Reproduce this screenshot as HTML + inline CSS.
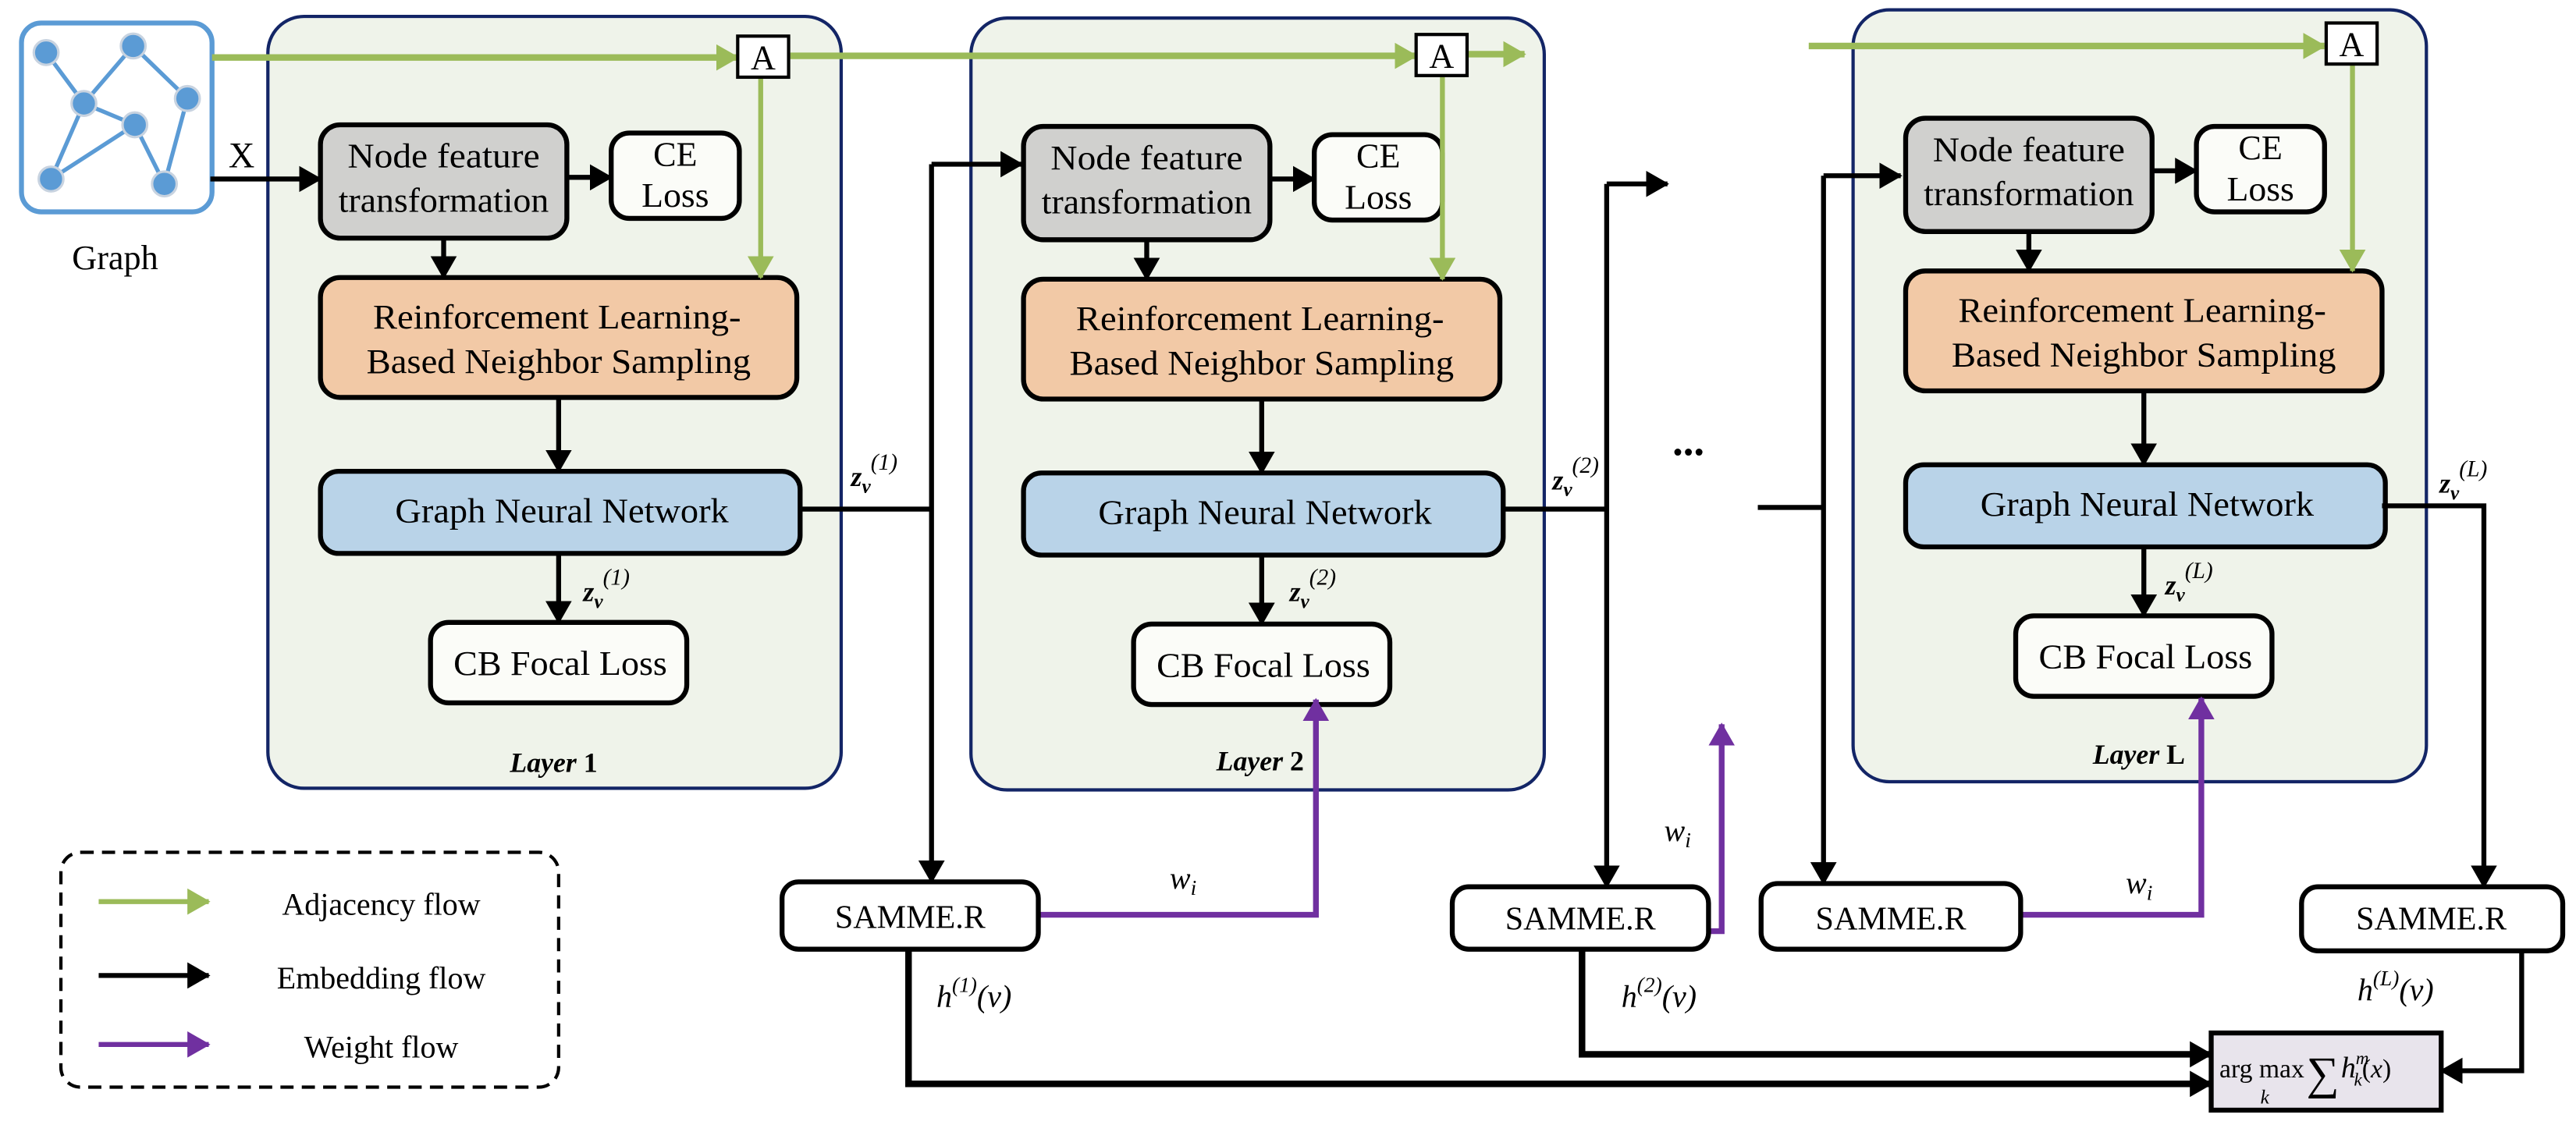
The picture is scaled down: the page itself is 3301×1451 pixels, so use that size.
<!DOCTYPE html>
<html><head><meta charset="utf-8"><style>
html,body{margin:0;padding:0;background:#fff;}
svg{display:block;font-family:"Liberation Serif","Times New Roman",serif;}
svg text{font-family:"Liberation Serif","Times New Roman",serif;fill:#000;}
</style></head><body>
<svg width="3301" height="1451" viewBox="0 0 1568 689.3" xmlns="http://www.w3.org/2000/svg" font-family="Liberation Serif, serif">
<defs>
<marker id="ab" markerUnits="userSpaceOnUse" markerWidth="14" markerHeight="16" refX="13" refY="8" orient="auto"><path d="M0,0 L14,8 L0,16 Z" fill="#000"/></marker>
<marker id="ag" markerUnits="userSpaceOnUse" markerWidth="14" markerHeight="16" refX="13" refY="8" orient="auto"><path d="M0,0 L14,8 L0,16 Z" fill="#9bbb59"/></marker>
<marker id="ap" markerUnits="userSpaceOnUse" markerWidth="14" markerHeight="16" refX="13" refY="8" orient="auto"><path d="M0,0 L14,8 L0,16 Z" fill="#7030a0"/></marker>
<g id="layer" font-family="Liberation Serif, serif">
<rect x="163" y="10" width="349" height="470" rx="22" fill="#eff3ea" stroke="#132566" stroke-width="2"/>
<rect x="195" y="76" width="150" height="69" rx="12" fill="#d0d0ce" stroke="#000" stroke-width="3"/>
<text x="270" y="102" font-family="Liberation Serif, serif" font-size="21" text-anchor="middle" textLength="117" lengthAdjust="spacingAndGlyphs">Node feature</text>
<text x="270" y="129" font-family="Liberation Serif, serif" font-size="21" text-anchor="middle" textLength="128" lengthAdjust="spacingAndGlyphs">transformation</text>
<rect x="372" y="81" width="78" height="52" rx="11" fill="#fbfcf8" stroke="#000" stroke-width="3"/>
<text x="411" y="101" font-family="Liberation Serif, serif" font-size="21" text-anchor="middle">CE</text>
<text x="411" y="126" font-family="Liberation Serif, serif" font-size="21" text-anchor="middle" textLength="41" lengthAdjust="spacingAndGlyphs">Loss</text>
<rect x="195" y="169" width="290" height="73" rx="12" fill="#f2c9a6" stroke="#000" stroke-width="3"/>
<text x="339" y="200" font-family="Liberation Serif, serif" font-size="21" text-anchor="middle" textLength="224" lengthAdjust="spacingAndGlyphs">Reinforcement Learning-</text>
<text x="340" y="227" font-family="Liberation Serif, serif" font-size="21" text-anchor="middle" textLength="234" lengthAdjust="spacingAndGlyphs">Based Neighbor Sampling</text>
<rect x="195" y="287" width="292" height="50" rx="11" fill="#b9d3e8" stroke="#000" stroke-width="3"/>
<text x="342" y="318" font-family="Liberation Serif, serif" font-size="21" text-anchor="middle" textLength="203" lengthAdjust="spacingAndGlyphs">Graph Neural Network</text>
<rect x="262" y="379" width="156" height="49" rx="11" fill="#fbfcf8" stroke="#000" stroke-width="3"/>
<text x="341" y="411" font-family="Liberation Serif, serif" font-size="21" text-anchor="middle" textLength="130" lengthAdjust="spacingAndGlyphs">CB Focal Loss</text>
<line x1="345" y1="108" x2="372" y2="108" stroke="#000" stroke-width="3" marker-end="url(#ab)"/>
<line x1="270" y1="145" x2="270" y2="169" stroke="#000" stroke-width="3" marker-end="url(#ab)"/>
<line x1="340" y1="242" x2="340" y2="287" stroke="#000" stroke-width="3" marker-end="url(#ab)"/>
<line x1="340" y1="337" x2="340" y2="379" stroke="#000" stroke-width="3" marker-end="url(#ab)"/>
</g>
</defs>

<!-- Graph icon -->
<rect x="13" y="14" width="116" height="115" rx="12" fill="#fff" stroke="#5b9bd5" stroke-width="3"/>
<g stroke="#5b9bd5" stroke-width="2.5">
<line x1="28" y1="32" x2="51" y2="63"/><line x1="51" y1="63" x2="81" y2="28"/><line x1="81" y1="28" x2="114" y2="60"/>
<line x1="51" y1="63" x2="82" y2="76"/><line x1="51" y1="63" x2="31" y2="109"/><line x1="31" y1="109" x2="82" y2="76"/>
<line x1="82" y1="76" x2="100" y2="112"/><line x1="114" y1="60" x2="100" y2="112"/>
</g>
<g fill="#5b9bd5" stroke="#c8d3e0" stroke-width="1.5">
<circle cx="28" cy="32" r="7.5"/><circle cx="81" cy="28" r="7.5"/><circle cx="51" cy="63" r="7.5"/><circle cx="114" cy="60" r="7.5"/>
<circle cx="82" cy="76" r="7.5"/><circle cx="31" cy="109" r="7.5"/><circle cx="100" cy="112" r="7.5"/>
</g>
<g font-family="Liberation Serif, serif">
<text x="70" y="164" font-size="21" text-anchor="middle">Graph</text>
</g>

<!-- Layers -->
<use href="#layer"/>
<use href="#layer" transform="translate(428,1)"/>
<use href="#layer" transform="translate(965,-4)"/>

<g font-family="Liberation Serif, serif">
<text x="337" y="470" font-size="17" text-anchor="middle" font-weight="bold"><tspan font-style="italic">Layer</tspan> 1</text>
<text x="767" y="469" font-size="17" text-anchor="middle" font-weight="bold"><tspan font-style="italic">Layer</tspan> 2</text>
<text x="1302" y="465" font-size="17" text-anchor="middle" font-weight="bold"><tspan font-style="italic">Layer</tspan> L</text>
<text x="147" y="102" font-size="22" text-anchor="middle">X</text>
</g>
<line x1="128" y1="109" x2="195" y2="109" stroke="#000" stroke-width="3" marker-end="url(#ab)"/>

<!-- Green adjacency flow -->
<g stroke="#9bbb59" stroke-width="4" fill="none">
<line x1="129" y1="35" x2="449" y2="35" marker-end="url(#ag)"/>
<line x1="481" y1="34" x2="862" y2="34" marker-end="url(#ag)"/>
<line x1="893" y1="33" x2="928" y2="33" marker-end="url(#ag)"/>
<line x1="463" y1="46" x2="463" y2="169" stroke-width="3" marker-end="url(#ag)"/>
<line x1="878" y1="45" x2="878" y2="170" stroke-width="3" marker-end="url(#ag)"/>
<line x1="1101" y1="28" x2="1415" y2="28" marker-end="url(#ag)"/>
<line x1="1432" y1="39" x2="1432" y2="165" stroke-width="3" marker-end="url(#ag)"/>
</g>
<rect x="449" y="22" width="31" height="25" fill="#fff" stroke="#000" stroke-width="2"/>
<rect x="862" y="21" width="31" height="25" fill="#fff" stroke="#000" stroke-width="2"/>
<rect x="1416" y="14" width="31" height="25" fill="#fff" stroke="#000" stroke-width="2"/>
<g font-family="Liberation Serif, serif" font-size="21" text-anchor="middle">
<text x="464.5" y="42">A</text>
<text x="877.5" y="41">A</text>
<text x="1431.5" y="34">A</text>
</g>

<!-- Black embedding flow -->
<g stroke="#000" stroke-width="3" fill="none">
<polyline points="487,310 567,310"/>
<polyline points="567,100 567,537" marker-end="url(#ab)"/>
<polyline points="567,100 622,100" marker-end="url(#ab)"/>
<polyline points="915,310 978,310"/>
<polyline points="978,112 978,540" marker-end="url(#ab)"/>
<polyline points="978,112 1015,112" marker-end="url(#ab)"/>
<polyline points="1070,309 1110,309"/>
<polyline points="1110,107 1110,538" marker-end="url(#ab)"/>
<polyline points="1110,107 1157,107" marker-end="url(#ab)"/>
<polyline points="1450,308 1512,308 1512,540" marker-end="url(#ab)"/>
<polyline points="553,578 553,660 1346,660" stroke-width="4" marker-end="url(#ab)"/>
<polyline points="963,578 963,642 1346,642" stroke-width="4" marker-end="url(#ab)"/>
<polyline points="1535,578 1535,652 1486,652" marker-end="url(#ab)"/>
</g>

<g font-family="Liberation Serif, serif">
<text x="1018" y="277" font-size="26" font-weight="bold">...</text>
<g font-size="17" font-weight="bold" font-style="italic">
<text x="518" y="296">z<tspan font-size="12" dy="4">v</tspan><tspan font-size="14" dy="-14" font-weight="normal">(1)</tspan></text>
<text x="355" y="366">z<tspan font-size="12" dy="4">v</tspan><tspan font-size="14" dy="-14" font-weight="normal">(1)</tspan></text>
<text x="945" y="298">z<tspan font-size="12" dy="4">v</tspan><tspan font-size="14" dy="-14" font-weight="normal">(2)</tspan></text>
<text x="785" y="366">z<tspan font-size="12" dy="4">v</tspan><tspan font-size="14" dy="-14" font-weight="normal">(2)</tspan></text>
<text x="1485" y="300">z<tspan font-size="12" dy="4">v</tspan><tspan font-size="14" dy="-14" font-weight="normal">(L)</tspan></text>
<text x="1318" y="362">z<tspan font-size="12" dy="4">v</tspan><tspan font-size="14" dy="-14" font-weight="normal">(L)</tspan></text>
</g>
</g>

<!-- Purple weight flow -->
<g stroke="#7030a0" stroke-width="3.5" fill="none">
<polyline points="632,557 801,557 801,426" marker-end="url(#ap)"/>
<polyline points="1040,567 1048,567 1048,441" marker-end="url(#ap)"/>
<polyline points="1230,557 1340,557 1340,425" marker-end="url(#ap)"/>
</g>
<g font-family="Liberation Serif, serif" font-size="19" font-style="italic">
<text x="712" y="541">w<tspan font-size="13" dy="4">i</tspan></text>
<text x="1013" y="512">w<tspan font-size="13" dy="4">i</tspan></text>
<text x="1294" y="544">w<tspan font-size="13" dy="4">i</tspan></text>
</g>

<!-- SAMME.R boxes -->
<g fill="#fff" stroke="#000" stroke-width="3">
<rect x="476" y="537" width="156" height="41" rx="10"/>
<rect x="884" y="540" width="156" height="38" rx="10"/>
<rect x="1072" y="538" width="158" height="40" rx="10"/>
<rect x="1401" y="540" width="159" height="39" rx="10"/>
</g>
<g font-family="Liberation Serif, serif" font-size="20" text-anchor="middle">
<text x="554" y="565">SAMME.R</text>
<text x="962" y="566">SAMME.R</text>
<text x="1151" y="566">SAMME.R</text>
<text x="1480" y="566">SAMME.R</text>
</g>

<g font-family="Liberation Serif, serif" font-size="19" font-style="italic">
<text x="570" y="613">h<tspan font-size="13" dy="-9">(1)</tspan><tspan dy="9">(v)</tspan></text>
<text x="987" y="613">h<tspan font-size="13" dy="-9">(2)</tspan><tspan dy="9">(v)</tspan></text>
<text x="1435" y="609">h<tspan font-size="13" dy="-9">(L)</tspan><tspan dy="9">(v)</tspan></text>
</g>

<!-- argmax box -->
<rect x="1346" y="629" width="140" height="47" fill="#e8e4ec" stroke="#000" stroke-width="3"/>
<g font-family="Liberation Serif, serif">
<text x="1351" y="656" font-size="16">arg max</text>
<text x="1376" y="672" font-size="12" font-style="italic">k</text>
<text x="1404" y="663" font-size="28">∑</text>
<text x="1425" y="656" font-size="18" font-style="italic">h<tspan font-size="11" dy="-8">m</tspan><tspan font-size="11" dx="-9" dy="13">k</tspan><tspan font-size="16" dy="-5" font-style="normal">(</tspan><tspan font-size="16">x</tspan><tspan font-size="16" font-style="normal">)</tspan></text>
</g>

<!-- Legend -->
<rect x="37" y="519" width="303" height="143" rx="12" fill="#fff" stroke="#000" stroke-width="2" stroke-dasharray="8,5"/>
<line x1="60" y1="549" x2="127" y2="549" stroke="#9bbb59" stroke-width="3" marker-end="url(#ag)"/>
<line x1="60" y1="594" x2="127" y2="594" stroke="#000" stroke-width="3" marker-end="url(#ab)"/>
<line x1="60" y1="636" x2="127" y2="636" stroke="#7030a0" stroke-width="3" marker-end="url(#ap)"/>
<g font-family="Liberation Serif, serif" font-size="19" text-anchor="middle">
<text x="232" y="557">Adjacency flow</text>
<text x="232" y="602">Embedding flow</text>
<text x="232" y="644">Weight flow</text>
</g>
</svg>
</body></html>
